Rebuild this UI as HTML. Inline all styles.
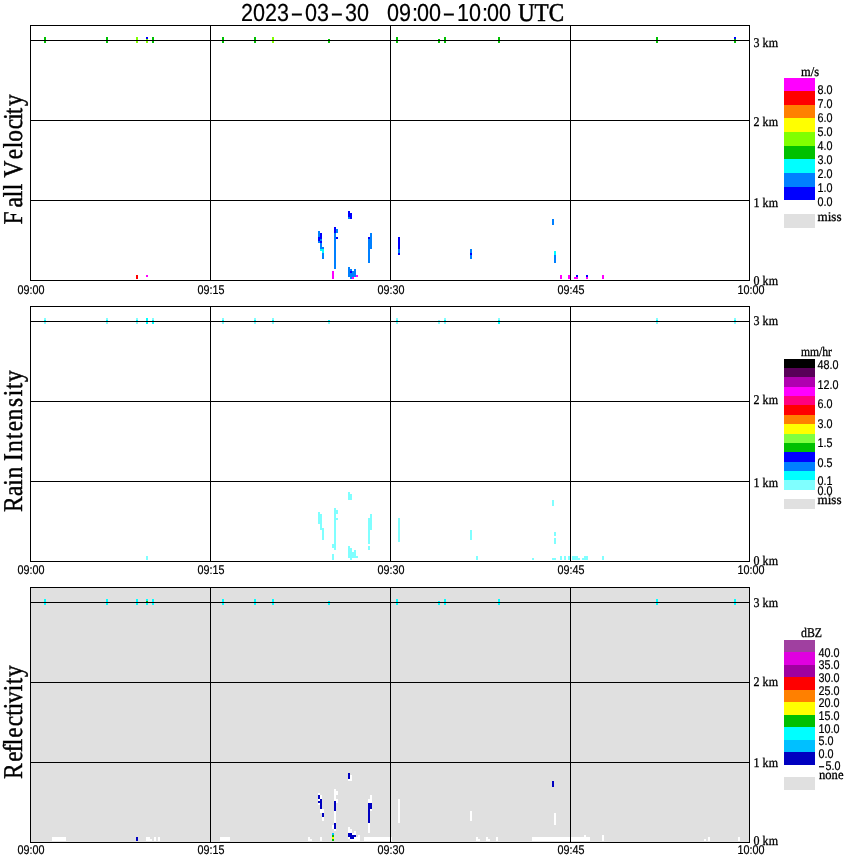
<!DOCTYPE html>
<html><head><meta charset="utf-8"><title>2023-03-30 09:00-10:00 UTC</title>
<style>
html,body{margin:0;padding:0;background:#fff}
svg{display:block}
.ss{font-family:"Liberation Sans",sans-serif;fill:#000;stroke:#000;stroke-width:.2px}
.sf{font-family:"Liberation Serif",serif;fill:#000;stroke:#000;stroke-width:.3px}
text{text-rendering:geometricPrecision}
.yl{font-variant-ligatures:none;font-kerning:none;stroke-width:.45px}
</style></head><body>
<svg width="850" height="868" viewBox="0 0 850 868" shape-rendering="crispEdges">
<rect width="850" height="868" fill="#fff"/>
<text class="ss" x="241" y="20.5" font-size="24.6" text-anchor="start" textLength="48" lengthAdjust="spacingAndGlyphs">2023</text>
<text class="ss" x="290.3" y="20.5" font-size="24.6" text-anchor="start" textLength="13.3" lengthAdjust="spacingAndGlyphs">-</text>
<text class="ss" x="305" y="20.5" font-size="24.6" text-anchor="start" textLength="24" lengthAdjust="spacingAndGlyphs">03</text>
<text class="ss" x="330.3" y="20.5" font-size="24.6" text-anchor="start" textLength="13.3" lengthAdjust="spacingAndGlyphs">-</text>
<text class="ss" x="345" y="20.5" font-size="24.6" text-anchor="start" textLength="24" lengthAdjust="spacingAndGlyphs">30</text>
<text class="ss" x="387" y="20.5" font-size="24.6" text-anchor="start" textLength="24" lengthAdjust="spacingAndGlyphs">09</text>
<text class="ss" x="412" y="20.5" font-size="24.6" text-anchor="start" textLength="6" lengthAdjust="spacingAndGlyphs">:</text>
<text class="ss" x="417" y="20.5" font-size="24.6" text-anchor="start" textLength="24" lengthAdjust="spacingAndGlyphs">00</text>
<text class="ss" x="442.3" y="20.5" font-size="24.6" text-anchor="start" textLength="13.3" lengthAdjust="spacingAndGlyphs">-</text>
<text class="ss" x="457" y="20.5" font-size="24.6" text-anchor="start" textLength="24" lengthAdjust="spacingAndGlyphs">10</text>
<text class="ss" x="482" y="20.5" font-size="24.6" text-anchor="start" textLength="6" lengthAdjust="spacingAndGlyphs">:</text>
<text class="ss" x="487" y="20.5" font-size="24.6" text-anchor="start" textLength="24" lengthAdjust="spacingAndGlyphs">00</text>
<text class="sf" x="518" y="20.5" font-size="25.7" text-anchor="start" textLength="46" lengthAdjust="spacingAndGlyphs" style="stroke-width:.6px">UTC</text>

<rect x="44" y="37" width="2" height="6" fill="#00c000"/><rect x="106" y="37" width="2" height="6" fill="#00c000"/><rect x="152" y="37" width="2" height="6" fill="#00c000"/><rect x="222" y="37" width="2" height="6" fill="#00c000"/><rect x="254" y="37" width="2" height="6" fill="#00c000"/><rect x="396" y="37" width="2" height="6" fill="#00c000"/><rect x="444" y="37" width="2" height="6" fill="#00c000"/><rect x="498" y="37" width="2" height="6" fill="#00c000"/><rect x="656" y="37" width="2" height="6" fill="#00c000"/><rect x="136" y="37" width="2" height="6" fill="#80ff00"/><rect x="272" y="37" width="2" height="6" fill="#80ff00"/><rect x="146" y="37" width="2" height="2" fill="#0000ff"/><rect x="146" y="39" width="2" height="4" fill="#80ff00"/><rect x="734" y="37" width="2" height="2" fill="#0000ff"/><rect x="734" y="39" width="2" height="4" fill="#00c000"/><rect x="328" y="39" width="2" height="4" fill="#00c000"/><rect x="438" y="39" width="2" height="4" fill="#00c000"/><rect x="318" y="231" width="2" height="6" fill="#0080ff"/><rect x="318" y="237" width="2" height="4" fill="#0000ff"/><rect x="318" y="241" width="2" height="2" fill="#0080ff"/><rect x="320" y="233" width="2" height="6" fill="#0000ff"/><rect x="320" y="239" width="2" height="2" fill="#0080ff"/><rect x="320" y="241" width="2" height="2" fill="#0000ff"/><rect x="320" y="243" width="2" height="6" fill="#0080ff"/><rect x="320" y="249" width="2" height="2" fill="#00ffff"/><rect x="322" y="247" width="2" height="2" fill="#0080ff"/><rect x="322" y="249" width="2" height="4" fill="#00ffff"/><rect x="322" y="253" width="2" height="6" fill="#0080ff"/><rect x="332" y="271" width="2" height="8" fill="#ff00ff"/><rect x="334" y="227" width="2" height="6" fill="#0000ff"/><rect x="334" y="233" width="2" height="36" fill="#0080ff"/><rect x="336" y="229" width="2" height="4" fill="#0080ff"/><rect x="336" y="237" width="2" height="2" fill="#0000ff"/><rect x="348" y="211" width="2" height="6" fill="#0000ff"/><rect x="348" y="217" width="2" height="2" fill="#0080ff"/><rect x="350" y="213" width="2" height="6" fill="#0000ff"/><rect x="348" y="267" width="2" height="10" fill="#0080ff"/><rect x="350" y="269" width="2" height="2" fill="#0080ff"/><rect x="350" y="271" width="2" height="2" fill="#0000ff"/><rect x="350" y="273" width="2" height="6" fill="#0080ff"/><rect x="352" y="271" width="2" height="6" fill="#0080ff"/><rect x="352" y="277" width="2" height="2" fill="#ff00ff"/><rect x="354" y="269" width="2" height="8" fill="#0080ff"/><rect x="356" y="275" width="2" height="2" fill="#ff00ff"/><rect x="368" y="237" width="2" height="2" fill="#0000ff"/><rect x="368" y="239" width="2" height="24" fill="#0080ff"/><rect x="370" y="233" width="2" height="16" fill="#0080ff"/><rect x="398" y="237" width="2" height="12" fill="#0000ff"/><rect x="398" y="249" width="2" height="4" fill="#0080ff"/><rect x="398" y="253" width="2" height="2" fill="#0000ff"/><rect x="470" y="249" width="2" height="4" fill="#0080ff"/><rect x="470" y="253" width="2" height="2" fill="#0000ff"/><rect x="470" y="255" width="2" height="4" fill="#0080ff"/><rect x="552" y="219" width="2" height="6" fill="#0080ff"/><rect x="554" y="251" width="2" height="4" fill="#00ffff"/><rect x="554" y="255" width="2" height="8" fill="#0080ff"/><rect x="136" y="275" width="2" height="4" fill="#ff0000"/><rect x="146" y="275" width="2" height="2" fill="#ff00ff"/><rect x="560" y="275" width="2" height="4" fill="#ff00ff"/><rect x="568" y="275" width="2" height="4" fill="#ff00ff"/><rect x="574" y="277" width="2" height="2" fill="#ff00ff"/><rect x="576" y="275" width="2" height="2" fill="#0000ff"/><rect x="576" y="277" width="2" height="2" fill="#ff00ff"/><rect x="586" y="275" width="2" height="2" fill="#0000ff"/><rect x="586" y="277" width="2" height="2" fill="#ff00ff"/><rect x="602" y="275" width="2" height="4" fill="#ff00ff"/>
<rect x="30" y="25" width="720" height="1" fill="#000"/><rect x="30" y="40" width="720" height="1" fill="#000"/><rect x="30" y="120" width="720" height="1" fill="#000"/><rect x="30" y="200" width="720" height="1" fill="#000"/><rect x="30" y="280" width="720" height="1" fill="#000"/><rect x="30" y="25" width="1" height="256" fill="#000"/><rect x="210" y="25" width="1" height="256" fill="#000"/><rect x="390" y="25" width="1" height="256" fill="#000"/><rect x="570" y="25" width="1" height="256" fill="#000"/><rect x="749" y="25" width="1" height="256" fill="#000"/>
<text class="ss" x="17.5" y="294" font-size="12.6" text-anchor="start" textLength="27" lengthAdjust="spacingAndGlyphs">09:00</text><text class="ss" x="197.5" y="294" font-size="12.6" text-anchor="start" textLength="27" lengthAdjust="spacingAndGlyphs">09:15</text><text class="ss" x="377.5" y="294" font-size="12.6" text-anchor="start" textLength="27" lengthAdjust="spacingAndGlyphs">09:30</text><text class="ss" x="557.5" y="294" font-size="12.6" text-anchor="start" textLength="27" lengthAdjust="spacingAndGlyphs">09:45</text><text class="ss" x="737.5" y="294" font-size="12.6" text-anchor="start" textLength="27" lengthAdjust="spacingAndGlyphs">10:00</text>
<text class="sf" x="753.6" y="47" font-size="13.3" text-anchor="start" textLength="24.4" lengthAdjust="spacingAndGlyphs">3 km</text><text class="sf" x="753.6" y="126" font-size="13.3" text-anchor="start" textLength="24.4" lengthAdjust="spacingAndGlyphs">2 km</text><text class="sf" x="753.6" y="207" font-size="13.3" text-anchor="start" textLength="24.4" lengthAdjust="spacingAndGlyphs">1 km</text><text class="sf" x="753.6" y="285" font-size="13.3" text-anchor="start" textLength="24.4" lengthAdjust="spacingAndGlyphs">0 km</text>

<rect x="44" y="318" width="2" height="2" fill="#80ffff"/><rect x="44" y="320" width="2" height="2" fill="#00ffff"/><rect x="44" y="322" width="2" height="2" fill="#80ffff"/><rect x="106" y="318" width="2" height="2" fill="#80ffff"/><rect x="106" y="320" width="2" height="2" fill="#00ffff"/><rect x="106" y="322" width="2" height="2" fill="#80ffff"/><rect x="136" y="318" width="2" height="2" fill="#80ffff"/><rect x="136" y="320" width="2" height="2" fill="#00ffff"/><rect x="136" y="322" width="2" height="2" fill="#80ffff"/><rect x="146" y="318" width="2" height="6" fill="#00ffff"/><rect x="152" y="318" width="2" height="2" fill="#80ffff"/><rect x="152" y="320" width="2" height="4" fill="#00ffff"/><rect x="222" y="318" width="2" height="2" fill="#80ffff"/><rect x="222" y="320" width="2" height="2" fill="#00ffff"/><rect x="222" y="322" width="2" height="2" fill="#80ffff"/><rect x="254" y="318" width="2" height="2" fill="#80ffff"/><rect x="254" y="320" width="2" height="2" fill="#00ffff"/><rect x="254" y="322" width="2" height="2" fill="#80ffff"/><rect x="272" y="318" width="2" height="2" fill="#80ffff"/><rect x="272" y="320" width="2" height="2" fill="#00ffff"/><rect x="272" y="322" width="2" height="2" fill="#80ffff"/><rect x="396" y="318" width="2" height="2" fill="#80ffff"/><rect x="396" y="320" width="2" height="2" fill="#00ffff"/><rect x="396" y="322" width="2" height="2" fill="#80ffff"/><rect x="444" y="318" width="2" height="2" fill="#80ffff"/><rect x="444" y="320" width="2" height="2" fill="#00ffff"/><rect x="444" y="322" width="2" height="2" fill="#80ffff"/><rect x="498" y="318" width="2" height="2" fill="#80ffff"/><rect x="498" y="320" width="2" height="4" fill="#00ffff"/><rect x="656" y="318" width="2" height="2" fill="#80ffff"/><rect x="656" y="320" width="2" height="2" fill="#00ffff"/><rect x="656" y="322" width="2" height="2" fill="#80ffff"/><rect x="734" y="318" width="2" height="2" fill="#80ffff"/><rect x="734" y="320" width="2" height="2" fill="#00ffff"/><rect x="734" y="322" width="2" height="2" fill="#80ffff"/><rect x="328" y="320" width="2" height="2" fill="#00ffff"/><rect x="328" y="322" width="2" height="2" fill="#80ffff"/><rect x="438" y="320" width="2" height="4" fill="#80ffff"/><rect x="318" y="512" width="2" height="12" fill="#80ffff"/><rect x="320" y="514" width="2" height="16" fill="#80ffff"/><rect x="322" y="528" width="2" height="12" fill="#80ffff"/><rect x="332" y="544" width="2" height="4" fill="#80ffff"/><rect x="332" y="554" width="2" height="6" fill="#80ffff"/><rect x="334" y="508" width="2" height="42" fill="#80ffff"/><rect x="336" y="510" width="2" height="4" fill="#80ffff"/><rect x="336" y="518" width="2" height="2" fill="#80ffff"/><rect x="348" y="492" width="2" height="8" fill="#80ffff"/><rect x="348" y="546" width="2" height="12" fill="#80ffff"/><rect x="350" y="494" width="2" height="6" fill="#80ffff"/><rect x="350" y="548" width="2" height="12" fill="#80ffff"/><rect x="352" y="552" width="2" height="6" fill="#80ffff"/><rect x="354" y="550" width="2" height="8" fill="#80ffff"/><rect x="356" y="556" width="2" height="2" fill="#80ffff"/><rect x="368" y="518" width="2" height="26" fill="#80ffff"/><rect x="368" y="546" width="2" height="4" fill="#80ffff"/><rect x="370" y="514" width="2" height="16" fill="#80ffff"/><rect x="398" y="518" width="2" height="24" fill="#80ffff"/><rect x="470" y="530" width="2" height="10" fill="#80ffff"/><rect x="476" y="556" width="2" height="4" fill="#80ffff"/><rect x="552" y="500" width="2" height="6" fill="#80ffff"/><rect x="554" y="532" width="2" height="4" fill="#80ffff"/><rect x="554" y="538" width="2" height="6" fill="#80ffff"/><rect x="146" y="556" width="2" height="4" fill="#80ffff"/><rect x="532" y="558" width="2" height="2" fill="#80ffff"/><rect x="552" y="558" width="4" height="2" fill="#80ffff"/><rect x="560" y="556" width="2" height="4" fill="#80ffff"/><rect x="564" y="556" width="2" height="4" fill="#80ffff"/><rect x="568" y="556" width="2" height="4" fill="#80ffff"/><rect x="572" y="556" width="6" height="4" fill="#80ffff"/><rect x="578" y="558" width="2" height="2" fill="#80ffff"/><rect x="582" y="558" width="2" height="2" fill="#80ffff"/><rect x="584" y="556" width="4" height="4" fill="#80ffff"/><rect x="602" y="556" width="2" height="4" fill="#80ffff"/>
<rect x="30" y="306" width="720" height="1" fill="#000"/><rect x="30" y="321" width="720" height="1" fill="#000"/><rect x="30" y="401" width="720" height="1" fill="#000"/><rect x="30" y="481" width="720" height="1" fill="#000"/><rect x="30" y="561" width="720" height="1" fill="#000"/><rect x="30" y="306" width="1" height="256" fill="#000"/><rect x="210" y="306" width="1" height="256" fill="#000"/><rect x="390" y="306" width="1" height="256" fill="#000"/><rect x="570" y="306" width="1" height="256" fill="#000"/><rect x="749" y="306" width="1" height="256" fill="#000"/>
<text class="ss" x="17.5" y="574" font-size="12.6" text-anchor="start" textLength="27" lengthAdjust="spacingAndGlyphs">09:00</text><text class="ss" x="197.5" y="574" font-size="12.6" text-anchor="start" textLength="27" lengthAdjust="spacingAndGlyphs">09:15</text><text class="ss" x="377.5" y="574" font-size="12.6" text-anchor="start" textLength="27" lengthAdjust="spacingAndGlyphs">09:30</text><text class="ss" x="557.5" y="574" font-size="12.6" text-anchor="start" textLength="27" lengthAdjust="spacingAndGlyphs">09:45</text><text class="ss" x="737.5" y="574" font-size="12.6" text-anchor="start" textLength="27" lengthAdjust="spacingAndGlyphs">10:00</text>
<text class="sf" x="753.6" y="325" font-size="13.3" text-anchor="start" textLength="24.4" lengthAdjust="spacingAndGlyphs">3 km</text><text class="sf" x="753.6" y="404" font-size="13.3" text-anchor="start" textLength="24.4" lengthAdjust="spacingAndGlyphs">2 km</text><text class="sf" x="753.6" y="487" font-size="13.3" text-anchor="start" textLength="24.4" lengthAdjust="spacingAndGlyphs">1 km</text><text class="sf" x="753.6" y="565" font-size="13.3" text-anchor="start" textLength="24.4" lengthAdjust="spacingAndGlyphs">0 km</text>
<rect x="30" y="587" width="720" height="256" fill="#e0e0e0"/>
<rect x="44" y="599" width="2" height="6" fill="#00ffff"/><rect x="106" y="599" width="2" height="6" fill="#00ffff"/><rect x="136" y="599" width="2" height="6" fill="#00ffff"/><rect x="146" y="599" width="2" height="6" fill="#00ffff"/><rect x="152" y="599" width="2" height="6" fill="#00ffff"/><rect x="222" y="599" width="2" height="6" fill="#00ffff"/><rect x="254" y="599" width="2" height="6" fill="#00ffff"/><rect x="272" y="599" width="2" height="6" fill="#00ffff"/><rect x="396" y="599" width="2" height="6" fill="#00ffff"/><rect x="444" y="599" width="2" height="6" fill="#00ffff"/><rect x="498" y="599" width="2" height="6" fill="#00ffff"/><rect x="656" y="599" width="2" height="6" fill="#00ffff"/><rect x="734" y="599" width="2" height="6" fill="#00ffff"/><rect x="328" y="601" width="2" height="4" fill="#00ffff"/><rect x="438" y="601" width="2" height="4" fill="#00ffff"/><rect x="146" y="601" width="2" height="2" fill="#00c000"/><rect x="318" y="793" width="2" height="2" fill="#ffffff"/><rect x="318" y="795" width="2" height="4" fill="#0000c0"/><rect x="318" y="799" width="2" height="2" fill="#ffffff"/><rect x="318" y="801" width="2" height="2" fill="#0000c0"/><rect x="318" y="803" width="2" height="2" fill="#ffffff"/><rect x="320" y="795" width="2" height="4" fill="#ffffff"/><rect x="320" y="799" width="2" height="10" fill="#0000c0"/><rect x="320" y="809" width="2" height="4" fill="#ffffff"/><rect x="322" y="809" width="2" height="4" fill="#ffffff"/><rect x="322" y="813" width="2" height="4" fill="#0000c0"/><rect x="322" y="817" width="2" height="4" fill="#ffffff"/><rect x="332" y="825" width="2" height="4" fill="#ffffff"/><rect x="332" y="833" width="2" height="2" fill="#00c0ff"/><rect x="332" y="835" width="2" height="2" fill="#00c000"/><rect x="332" y="837" width="2" height="2" fill="#ffff00"/><rect x="332" y="839" width="2" height="2" fill="#00c000"/><rect x="334" y="789" width="2" height="12" fill="#ffffff"/><rect x="334" y="801" width="2" height="10" fill="#0000c0"/><rect x="334" y="811" width="2" height="12" fill="#ffffff"/><rect x="334" y="823" width="2" height="6" fill="#0000c0"/><rect x="334" y="829" width="2" height="2" fill="#ffffff"/><rect x="336" y="791" width="2" height="4" fill="#ffffff"/><rect x="336" y="799" width="2" height="4" fill="#ffffff"/><rect x="348" y="773" width="2" height="6" fill="#0000c0"/><rect x="348" y="779" width="2" height="2" fill="#ffffff"/><rect x="350" y="775" width="2" height="6" fill="#ffffff"/><rect x="348" y="827" width="2" height="6" fill="#ffffff"/><rect x="348" y="833" width="2" height="4" fill="#0000c0"/><rect x="348" y="837" width="2" height="2" fill="#ffffff"/><rect x="350" y="829" width="2" height="4" fill="#ffffff"/><rect x="350" y="833" width="2" height="6" fill="#0000c0"/><rect x="350" y="839" width="2" height="2" fill="#ffffff"/><rect x="352" y="833" width="2" height="2" fill="#ffffff"/><rect x="352" y="835" width="2" height="4" fill="#0000c0"/><rect x="352" y="839" width="2" height="2" fill="#ffffff"/><rect x="354" y="831" width="2" height="4" fill="#ffffff"/><rect x="354" y="835" width="2" height="2" fill="#0000c0"/><rect x="354" y="837" width="2" height="4" fill="#ffffff"/><rect x="356" y="837" width="2" height="4" fill="#ffffff"/><rect x="358" y="835" width="2" height="6" fill="#ffffff"/><rect x="364" y="837" width="28" height="4" fill="#ffffff"/><rect x="368" y="799" width="2" height="4" fill="#ffffff"/><rect x="368" y="803" width="2" height="20" fill="#0000c0"/><rect x="368" y="823" width="2" height="10" fill="#ffffff"/><rect x="370" y="795" width="2" height="8" fill="#ffffff"/><rect x="370" y="803" width="2" height="6" fill="#0000c0"/><rect x="370" y="809" width="2" height="2" fill="#ffffff"/><rect x="398" y="799" width="2" height="24" fill="#ffffff"/><rect x="470" y="811" width="2" height="10" fill="#ffffff"/><rect x="476" y="837" width="2" height="4" fill="#ffffff"/><rect x="478" y="839" width="2" height="2" fill="#ffffff"/><rect x="486" y="837" width="2" height="4" fill="#ffffff"/><rect x="488" y="839" width="2" height="2" fill="#ffffff"/><rect x="496" y="837" width="2" height="4" fill="#ffffff"/><rect x="552" y="781" width="2" height="6" fill="#0000c0"/><rect x="554" y="813" width="2" height="12" fill="#ffffff"/><rect x="532" y="837" width="58" height="4" fill="#ffffff"/><rect x="584" y="835" width="2" height="2" fill="#ffffff"/><rect x="602" y="835" width="2" height="6" fill="#ffffff"/><rect x="704" y="839" width="2" height="2" fill="#ffffff"/><rect x="708" y="837" width="2" height="4" fill="#ffffff"/><rect x="738" y="837" width="2" height="4" fill="#ffffff"/><rect x="52" y="837" width="14" height="4" fill="#ffffff"/><rect x="136" y="837" width="2" height="4" fill="#0000c0"/><rect x="146" y="837" width="4" height="4" fill="#ffffff"/><rect x="150" y="839" width="2" height="2" fill="#ffffff"/><rect x="154" y="837" width="2" height="4" fill="#ffffff"/><rect x="158" y="837" width="2" height="4" fill="#ffffff"/><rect x="220" y="837" width="10" height="4" fill="#ffffff"/><rect x="308" y="837" width="2" height="4" fill="#ffffff"/><rect x="310" y="839" width="2" height="2" fill="#ffffff"/><rect x="320" y="837" width="2" height="4" fill="#ffffff"/>
<rect x="30" y="587" width="720" height="1" fill="#000"/><rect x="30" y="602" width="720" height="1" fill="#000"/><rect x="30" y="682" width="720" height="1" fill="#000"/><rect x="30" y="762" width="720" height="1" fill="#000"/><rect x="30" y="842" width="720" height="1" fill="#000"/><rect x="30" y="587" width="1" height="256" fill="#000"/><rect x="210" y="587" width="1" height="256" fill="#000"/><rect x="390" y="587" width="1" height="256" fill="#000"/><rect x="570" y="587" width="1" height="256" fill="#000"/><rect x="749" y="587" width="1" height="256" fill="#000"/>
<text class="ss" x="17.5" y="854" font-size="12.6" text-anchor="start" textLength="27" lengthAdjust="spacingAndGlyphs">09:00</text><text class="ss" x="197.5" y="854" font-size="12.6" text-anchor="start" textLength="27" lengthAdjust="spacingAndGlyphs">09:15</text><text class="ss" x="377.5" y="854" font-size="12.6" text-anchor="start" textLength="27" lengthAdjust="spacingAndGlyphs">09:30</text><text class="ss" x="557.5" y="854" font-size="12.6" text-anchor="start" textLength="27" lengthAdjust="spacingAndGlyphs">09:45</text><text class="ss" x="737.5" y="854" font-size="12.6" text-anchor="start" textLength="27" lengthAdjust="spacingAndGlyphs">10:00</text>
<text class="sf" x="753.6" y="607" font-size="13.3" text-anchor="start" textLength="24.4" lengthAdjust="spacingAndGlyphs">3 km</text><text class="sf" x="753.6" y="686" font-size="13.3" text-anchor="start" textLength="24.4" lengthAdjust="spacingAndGlyphs">2 km</text><text class="sf" x="753.6" y="767" font-size="13.3" text-anchor="start" textLength="24.4" lengthAdjust="spacingAndGlyphs">1 km</text><text class="sf" x="753.6" y="845" font-size="13.3" text-anchor="start" textLength="24.4" lengthAdjust="spacingAndGlyphs">0 km</text>
<text class="sf yl" font-size="27.2" transform="translate(22,225) rotate(-90) scale(0.86,1)" x="0.68 20.42 32.27 40.41 47.96 55.29 76.46 89.24 96.69 111.31 122.36 128.73 138.44">Fall Velocity</text>
<text class="sf yl" font-size="27.2" transform="translate(22,512) rotate(-90) scale(0.86,1)" x="-0.14 18.67 30.50 39.02 52.62 59.41 69.84 84.54 93.90 106.47 121.97 134.57 142.68 151.23">Rain Intensity</text>
<text class="sf yl" font-size="27.2" transform="translate(22,779) rotate(-90) scale(0.86,1)" x="-0.14 20.07 31.10 39.24 47.97 61.31 73.49 81.08 87.97 102.01 110.12 118.67">Reflectivity</text>
<rect x="784" y="78" width="31" height="13" fill="#ff00ff"/><rect x="784" y="91" width="31" height="14" fill="#ff0000"/><rect x="784" y="105" width="31" height="13" fill="#ff8000"/><rect x="784" y="118" width="31" height="14" fill="#ffff00"/><rect x="784" y="132" width="31" height="14" fill="#80ff00"/><rect x="784" y="146" width="31" height="13" fill="#00c000"/><rect x="784" y="159" width="31" height="14" fill="#00ffff"/><rect x="784" y="173" width="31" height="14" fill="#0080ff"/><rect x="784" y="187" width="31" height="13" fill="#0000ff"/>
<rect x="784" y="214" width="31" height="14" fill="#e0e0e0"/>
<text class="sf" x="801" y="76" font-size="13.3" text-anchor="start" textLength="18" lengthAdjust="spacingAndGlyphs">m/s</text>
<text class="ss" x="817.5" y="94" font-size="12.6" text-anchor="start" textLength="15" lengthAdjust="spacingAndGlyphs">8.0</text>
<text class="ss" x="817.5" y="108" font-size="12.6" text-anchor="start" textLength="15" lengthAdjust="spacingAndGlyphs">7.0</text>
<text class="ss" x="817.5" y="122" font-size="12.6" text-anchor="start" textLength="15" lengthAdjust="spacingAndGlyphs">6.0</text>
<text class="ss" x="817.5" y="136" font-size="12.6" text-anchor="start" textLength="15" lengthAdjust="spacingAndGlyphs">5.0</text>
<text class="ss" x="817.5" y="150" font-size="12.6" text-anchor="start" textLength="15" lengthAdjust="spacingAndGlyphs">4.0</text>
<text class="ss" x="817.5" y="164" font-size="12.6" text-anchor="start" textLength="15" lengthAdjust="spacingAndGlyphs">3.0</text>
<text class="ss" x="817.5" y="178" font-size="12.6" text-anchor="start" textLength="15" lengthAdjust="spacingAndGlyphs">2.0</text>
<text class="ss" x="817.5" y="192" font-size="12.6" text-anchor="start" textLength="15" lengthAdjust="spacingAndGlyphs">1.0</text>
<text class="ss" x="817.5" y="206" font-size="12.6" text-anchor="start" textLength="15" lengthAdjust="spacingAndGlyphs">0.0</text>
<text class="sf" x="817.5" y="220.5" font-size="13.3" text-anchor="start" textLength="24" lengthAdjust="spacingAndGlyphs">miss</text>
<rect x="784" y="359" width="31" height="9" fill="#000000"/><rect x="784" y="368" width="31" height="9" fill="#580058"/><rect x="784" y="377" width="31" height="10" fill="#b000b0"/><rect x="784" y="387" width="31" height="9" fill="#ff00ff"/><rect x="784" y="396" width="31" height="9" fill="#ff0080"/><rect x="784" y="405" width="31" height="10" fill="#ff0000"/><rect x="784" y="415" width="31" height="9" fill="#ff8000"/><rect x="784" y="424" width="31" height="10" fill="#ffff00"/><rect x="784" y="434" width="31" height="9" fill="#80ff40"/><rect x="784" y="443" width="31" height="9" fill="#00c000"/><rect x="784" y="452" width="31" height="10" fill="#0000ff"/><rect x="784" y="462" width="31" height="9" fill="#0080ff"/><rect x="784" y="471" width="31" height="9" fill="#00ffff"/><rect x="784" y="480" width="31" height="10" fill="#80ffff"/>
<rect x="784" y="499" width="31" height="10" fill="#e0e0e0"/>
<text class="sf" x="801" y="356" font-size="13.3" text-anchor="start" textLength="31" lengthAdjust="spacingAndGlyphs">mm/hr</text>
<text class="ss" x="817.5" y="369" font-size="12.6" text-anchor="start" textLength="21" lengthAdjust="spacingAndGlyphs">48.0</text>
<text class="ss" x="817.5" y="389" font-size="12.6" text-anchor="start" textLength="21" lengthAdjust="spacingAndGlyphs">12.0</text>
<text class="ss" x="817.5" y="408" font-size="12.6" text-anchor="start" textLength="15" lengthAdjust="spacingAndGlyphs">6.0</text>
<text class="ss" x="817.5" y="428" font-size="12.6" text-anchor="start" textLength="15" lengthAdjust="spacingAndGlyphs">3.0</text>
<text class="ss" x="817.5" y="447" font-size="12.6" text-anchor="start" textLength="15" lengthAdjust="spacingAndGlyphs">1.5</text>
<text class="ss" x="817.5" y="467" font-size="12.6" text-anchor="start" textLength="15" lengthAdjust="spacingAndGlyphs">0.5</text>
<text class="ss" x="817.5" y="485" font-size="12.6" text-anchor="start" textLength="15" lengthAdjust="spacingAndGlyphs">0.1</text>
<text class="ss" x="817.5" y="495" font-size="12.6" text-anchor="start" textLength="15" lengthAdjust="spacingAndGlyphs">0.0</text>
<text class="sf" x="817.5" y="504" font-size="13.3" text-anchor="start" textLength="24" lengthAdjust="spacingAndGlyphs">miss</text>
<rect x="784" y="640" width="31" height="12" fill="#a040a0"/><rect x="784" y="652" width="31" height="13" fill="#e000e0"/><rect x="784" y="665" width="31" height="12" fill="#a000a0"/><rect x="784" y="677" width="31" height="13" fill="#ff0000"/><rect x="784" y="690" width="31" height="12" fill="#ff8000"/><rect x="784" y="702" width="31" height="13" fill="#ffff00"/><rect x="784" y="715" width="31" height="12" fill="#00c000"/><rect x="784" y="727" width="31" height="13" fill="#00ffff"/><rect x="784" y="740" width="31" height="12" fill="#00c0ff"/><rect x="784" y="752" width="31" height="13" fill="#0000c0"/>
<rect x="784" y="777" width="31" height="13" fill="#e0e0e0"/>
<text class="sf" x="801" y="637" font-size="13.3" text-anchor="start" textLength="21" lengthAdjust="spacingAndGlyphs">dBZ</text>
<text class="ss" x="818.5" y="657" font-size="12.6" text-anchor="start" textLength="21" lengthAdjust="spacingAndGlyphs">40.0</text>
<text class="ss" x="818.5" y="669" font-size="12.6" text-anchor="start" textLength="21" lengthAdjust="spacingAndGlyphs">35.0</text>
<text class="ss" x="818.5" y="682" font-size="12.6" text-anchor="start" textLength="21" lengthAdjust="spacingAndGlyphs">30.0</text>
<text class="ss" x="818.5" y="695" font-size="12.6" text-anchor="start" textLength="21" lengthAdjust="spacingAndGlyphs">25.0</text>
<text class="ss" x="818.5" y="707" font-size="12.6" text-anchor="start" textLength="21" lengthAdjust="spacingAndGlyphs">20.0</text>
<text class="ss" x="818.5" y="720" font-size="12.6" text-anchor="start" textLength="21" lengthAdjust="spacingAndGlyphs">15.0</text>
<text class="ss" x="818.5" y="733" font-size="12.6" text-anchor="start" textLength="21" lengthAdjust="spacingAndGlyphs">10.0</text>
<text class="ss" x="818.5" y="745" font-size="12.6" text-anchor="start" textLength="15" lengthAdjust="spacingAndGlyphs">5.0</text>
<text class="ss" x="818.5" y="758" font-size="12.6" text-anchor="start" textLength="15" lengthAdjust="spacingAndGlyphs">0.0</text>
<text class="ss" y="770" font-size="12.6"><tspan x="818.3" textLength="6.6" lengthAdjust="spacingAndGlyphs">-</tspan><tspan x="825.5" textLength="15" lengthAdjust="spacingAndGlyphs">5.0</tspan></text>
<text class="sf" x="819" y="779" font-size="13.3" text-anchor="start" textLength="24.5" lengthAdjust="spacingAndGlyphs">none</text>
</svg>
</body></html>
